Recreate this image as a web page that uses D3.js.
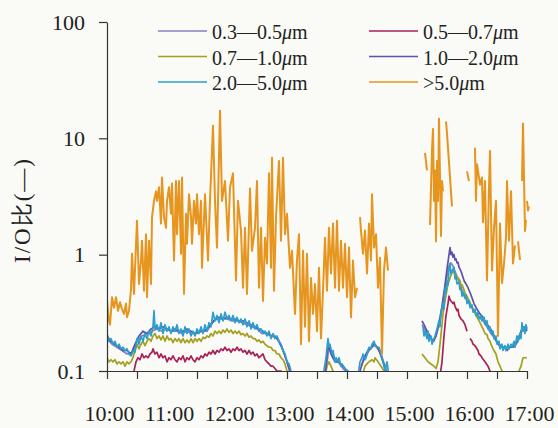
<!DOCTYPE html>
<html>
<head>
<meta charset="utf-8">
<script src="https://cdn.jsdelivr.net/npm/d3@7"></script>
<style>
  body { margin: 0; background: #fafaf6; }
  svg { display: block; font-family: "Liberation Serif", "Times New Roman", serif; }
</style>
</head>
<body>
<script>
const WIDTH = 558;
const HEIGHT = 428;

// minutes after 10:00, value (null = gap)
var s03_05 = [[0,0.19],[5,0.17],[10,0.16],[15,0.15],[20,0.14],[25,0.14],[30,0.18],[35,0.2],[40,0.21],[45,0.22],[50,0.23],[55,0.22],[60,0.23],[65,0.22],[70,0.22],[75,0.21],[80,0.22],[85,0.21],[90,0.21],[95,0.22],[100,0.22],[105,0.26],[110,0.28],[115,0.28],[120,0.28],[125,0.27],[130,0.27],[135,0.26],[140,0.25],[145,0.24],[150,0.23],[155,0.21],[160,0.21],[165,0.2],[170,0.19],[175,0.16],[180,0.12],[184,0.09],[185,null],
  [219,0.1],[222,0.16],[226,0.13],[231,0.12],[236,0.105],[241,0.095],[242,null],
  [254,0.11],[258,0.13],[262,0.15],[266,0.17],[270,0.16],[274,0.14],[278,0.11],[281,0.09],[282,null],
  [315,0.25],[319,0.22],[323,0.19],[327,0.18],[331,0.23],[334,0.3],[337,0.45],[340,0.65],[342,0.8],[344,0.85],[346,0.8],[348,0.72],[351,0.62],[354,0.52],[357,0.46],[360,0.41],[364,0.36],[368,0.32],[372,0.29],[376,0.27],[380,0.24],[384,0.21],[388,0.19],[392,0.17],[396,0.16],[400,0.16],[404,0.16],[408,0.17],[412,0.2],[416,0.24],[420,0.23]];

var s05_07 = [[25,0.09],[27,0.1],[29,0.12],[31,0.13],[33,0.125],[35,0.14],[37,0.13],[39,0.135],[41,0.13],[43,0.14],[45,0.145],[46,0.155],[48,0.14],[50,0.145],[52,0.13],[54,0.14],[56,0.13],[58,0.135],[60,0.12],[62,0.13],[64,0.125],[66,0.135],[68,0.125],[70,0.12],[72,0.13],[74,0.125],[76,0.135],[78,0.12],[80,0.13],[82,0.125],[84,0.135],[86,0.125],[88,0.12],[90,0.13],[92,0.125],[94,0.135],[96,0.13],[98,0.14],[100,0.135],[102,0.145],[104,0.14],[106,0.15],[108,0.14],[110,0.15],[112,0.145],[114,0.155],[116,0.15],[118,0.16],[120,0.15],[122,0.155],[124,0.145],[126,0.155],[128,0.15],[130,0.16],[132,0.15],[134,0.155],[136,0.145],[138,0.15],[140,0.14],[142,0.15],[144,0.14],[146,0.145],[148,0.135],[150,0.14],[152,0.13],[154,0.135],[156,0.14],[158,0.125],[160,0.12],[162,0.115],[164,0.11],[166,0.11],[168,0.105],[170,0.1],[172,0.1],[174,0.1],[176,0.095],[178,0.09],[179,null],
  [333,0.09],[335,0.12],[337,0.2],[339,0.3],[341,0.38],[342,0.44],[343,0.41],[344,0.4],[346,0.38],[347,0.39],[348,0.36],[350,0.33],[351,0.34],[352,0.3],[354,0.28],[356,0.27],[358,0.25],[360,0.22],[361,null],
  [363,0.19],[365,0.18],[366,0.17],[368,0.165],[369,0.16],[371,0.15],[372,0.14],[374,0.135],[375,0.13],[378,0.12],[381,0.11],[383,0.1],[385,0.09]];

var s07_10 = [[0,0.13],[2,0.12],[4,0.125],[6,0.12],[8,0.125],[10,0.115],[12,0.12],[14,0.115],[16,0.12],[18,0.11],[20,0.12],[22,0.115],[24,0.12],[26,0.13],[28,0.15],[30,0.17],[32,0.155],[34,0.17],[36,0.18],[38,0.165],[40,0.18],[42,0.19],[44,0.18],[46,0.2],[48,0.21],[50,0.19],[52,0.2],[54,0.185],[56,0.2],[58,0.18],[60,0.2],[62,0.185],[64,0.19],[66,0.175],[68,0.19],[70,0.18],[72,0.19],[74,0.175],[76,0.19],[78,0.175],[80,0.185],[82,0.175],[84,0.19],[86,0.175],[88,0.19],[90,0.18],[92,0.19],[94,0.18],[96,0.195],[98,0.19],[100,0.2],[102,0.195],[104,0.21],[106,0.2],[108,0.22],[110,0.21],[112,0.22],[114,0.21],[116,0.225],[118,0.215],[120,0.23],[122,0.215],[124,0.225],[126,0.21],[128,0.22],[130,0.21],[132,0.22],[134,0.205],[136,0.21],[138,0.2],[140,0.21],[142,0.195],[144,0.2],[146,0.19],[148,0.19],[150,0.18],[152,0.185],[154,0.175],[156,0.18],[158,0.17],[160,0.165],[162,0.16],[164,0.16],[166,0.15],[168,0.15],[170,0.14],[172,0.14],[174,0.13],[176,0.125],[178,0.115],[180,0.1],[182,0.09],[183,null],
  [218,0.09],[220,0.11],[222,0.12],[224,0.11],[226,0.1],[228,0.09],[229,null],
  [255,0.09],[258,0.11],[260,0.115],[262,0.12],[265,0.125],[267,0.12],[268,0.13],[271,0.12],[274,0.11],[277,0.1],[279,0.09],[280,null],
  [315,0.14],[318,0.13],[321,0.12],[324,0.115],[327,0.11],[329,0.105],[331,0.12],[333,0.17],[335,0.25],[336,0.31],[338,0.4],[340,0.5],[341,0.56],[343,0.63],[345,0.7],[347,0.72],[348,0.66],[349,0.68],[350,0.62],[351,0.63],[353,0.6],[354,0.54],[355,0.55],[357,0.5],[358,0.47],[360,0.44],[361,0.42],[363,0.39],[364,0.37],[366,0.34],[367,0.33],[369,0.3],[370,0.29],[372,0.27],[373,0.26],[375,0.24],[376,0.23],[378,0.21],[380,0.205],[381,0.19],[383,0.18],[384,0.17],[386,0.155],[387,0.15],[389,0.14],[391,0.12],[393,0.11],[395,0.1],[397,0.09],[398,null],
  [410,0.09],[412,0.1],[414,0.11],[416,0.13],[418,0.13],[420,0.13]];

var s10_20 = [[0,0.2],[4,0.18],[8,0.17],[12,0.16],[16,0.15],[20,0.15],[24,0.14],[28,0.17],[32,0.2],[36,0.22],[40,0.21],[44,0.23],[48,0.24],[52,0.23],[56,0.24],[60,0.23],[64,0.22],[68,0.23],[72,0.22],[76,0.22],[80,0.23],[84,0.22],[88,0.21],[92,0.22],[96,0.22],[100,0.23],[104,0.25],[108,0.28],[112,0.29],[116,0.28],[120,0.29],[124,0.28],[128,0.28],[132,0.27],[136,0.27],[140,0.26],[144,0.25],[148,0.24],[152,0.23],[156,0.22],[160,0.21],[164,0.2],[168,0.2],[172,0.18],[176,0.15],[180,0.12],[183,0.1],[185,0.09],[186,null],
  [218,0.09],[221,0.17],[224,0.14],[228,0.12],[232,0.12],[236,0.11],[240,0.1],[242,0.09],[243,null],
  [253,0.1],[257,0.13],[261,0.15],[265,0.16],[268,0.17],[272,0.15],[276,0.12],[279,0.1],[281,0.09],[282,null],
  [315,0.27],[317,0.25],[320,0.22],[323,0.2],[326,0.18],[329,0.2],[332,0.26],[335,0.36],[338,0.55],[340,0.75],[342,1.0],[343,1.15],[344,1.0],[345,1.05],[346,0.95],[347,1.0],[348,0.9],[349,0.92],[350,0.85],[351,0.86],[352,0.78],[353,0.75],[354,0.72],[355,0.68],[357,0.6],[359,0.56],[361,0.52],[364,0.45],[367,0.38],[370,0.34],[373,0.31],[376,0.29],[379,0.26],[382,0.24],[385,0.22],[388,0.19],[391,0.17],[394,0.16],[397,0.16],[400,0.15],[403,0.16],[406,0.16],[409,0.17],[412,0.19],[415,0.23],[418,0.24],[420,0.22]];

var s20_50 = [[0,0.21],[2,0.18],[4,0.19],[6,0.17],[8,0.18],[10,0.16],[12,0.17],[14,0.155],[16,0.16],[18,0.15],[20,0.155],[22,0.14],[24,0.135],[26,0.15],[28,0.145],[30,0.19],[32,0.17],[34,0.2],[36,0.18],[38,0.21],[40,0.19],[42,0.22],[44,0.2],[46,0.24],[47,0.33],[48,0.23],[50,0.25],[52,0.22],[54,0.26],[56,0.21],[58,0.25],[60,0.22],[62,0.24],[64,0.21],[66,0.24],[68,0.22],[70,0.25],[72,0.21],[74,0.23],[76,0.2],[78,0.24],[80,0.21],[82,0.23],[84,0.2],[86,0.22],[88,0.2],[90,0.23],[92,0.21],[94,0.24],[96,0.21],[98,0.25],[100,0.22],[102,0.26],[104,0.24],[106,0.32],[108,0.27],[110,0.3],[112,0.26],[114,0.31],[116,0.27],[118,0.32],[120,0.28],[122,0.3],[124,0.27],[126,0.3],[128,0.26],[130,0.29],[132,0.26],[134,0.28],[136,0.25],[138,0.28],[140,0.24],[142,0.27],[144,0.23],[146,0.26],[148,0.23],[150,0.25],[152,0.22],[154,0.23],[156,0.21],[158,0.22],[160,0.2],[162,0.22],[164,0.19],[166,0.21],[168,0.19],[170,0.2],[172,0.18],[174,0.17],[176,0.15],[178,0.14],[180,0.12],[182,0.115],[184,0.1],[186,0.09],[187,null],
  [216,0.09],[219,0.13],[221,0.19],[222,0.16],[223,0.17],[225,0.14],[226,0.15],[228,0.12],[229,0.13],[231,0.12],[232,0.13],[234,0.11],[235,0.115],[238,0.105],[241,0.1],[243,0.09],[244,null],
  [251,0.09],[253,0.12],[255,0.13],[256,0.14],[258,0.125],[259,0.13],[261,0.15],[262,0.16],[264,0.155],[265,0.17],[267,0.18],[268,0.165],[270,0.16],[272,0.16],[273,0.15],[275,0.13],[276,0.12],[278,0.1],[280,0.12],[282,0.09],[283,null],
  [316,0.24],[317,0.2],[318,0.22],[320,0.19],[321,0.22],[322,0.18],[324,0.2],[325,0.17],[326,0.18],[328,0.2],[330,0.23],[332,0.27],[333,0.24],[334,0.32],[336,0.38],[337,0.34],[338,0.52],[339,0.47],[340,0.6],[341,0.55],[342,0.75],[343,0.84],[344,0.68],[345,0.72],[347,0.78],[348,0.62],[349,0.65],[350,0.56],[352,0.58],[353,0.5],[354,0.52],[355,0.44],[356,0.47],[358,0.42],[359,0.45],[360,0.38],[362,0.4],[363,0.35],[365,0.37],[366,0.32],[368,0.34],[369,0.3],[371,0.32],[372,0.28],[374,0.3],[375,0.27],[377,0.29],[378,0.25],[380,0.27],[381,0.23],[383,0.24],[384,0.21],[386,0.22],[387,0.19],[389,0.2],[390,0.17],[392,0.18],[393,0.155],[395,0.17],[396,0.15],[398,0.165],[399,0.15],[401,0.17],[402,0.155],[404,0.17],[405,0.16],[407,0.18],[408,0.16],[410,0.2],[411,0.18],[413,0.21],[414,0.19],[415,0.26],[416,0.22],[417,0.24],[418,0.21],[419,0.25],[420,0.23]];

var s50 = [[0,0.40],[2,0.27],[3,0.25],[5,0.43],[7,0.35],[9,0.43],[11,0.33],[13,0.39],[15,0.34],[17,0.31],[19,0.38],[20,0.29],[22,0.33],[24,0.5],[25,1.02],[27,0.46],[30,1.96],[32,0.56],[34,0.89],[35,1.32],[37,0.49],[39,1.5],[40,0.43],[42,1.32],[44,0.56],[45,2.1],[47,2.9],[49,3.5],[50,2.9],[52,3.8],[54,1.85],[55,4.6],[57,2.1],[59,1.7],[60,2.9],[62,3.8],[64,2.25],[65,4.1],[67,0.89],[69,4.3],[70,1.5],[72,4.3],[74,1.02],[75,4.6],[77,0.46],[79,2.25],[80,1.24],[82,3.3],[84,2.1],[85,1.24],[87,2.9],[89,1.85],[90,3.3],[92,1.5],[94,2.9],[95,0.77],[98,3.3],[101,0.89],[103,2.9],[106,12.8],[108,2.9],[110,1.15],[113,17.3],[115,2.9],[118,4.3],[121,1.32],[123,3.8],[126,5.0],[129,0.6],[131,2.9],[134,1.61],[136,0.52],[138,1.7],[140,0.46],[143,3.7],[145,1.08],[148,1.7],[150,4.3],[152,0.52],[154,1.7],[156,0.4],[158,1.4],[160,0.84],[162,5.0],[164,0.77],[165,6.8],[167,0.49],[169,2.1],[172,6.4],[174,1.32],[176,6.8],[178,1.5],[180,2.25],[183,0.77],[185,1.08],[188,0.31],[190,0.9],[192,1.5],[194,0.17],[196,1.08],[198,0.24],[200,1.02],[202,0.18],[204,0.63],[206,0.31],[208,0.56],[210,0.22],[212,0.77],[214,0.19],[216,0.49],[218,1.4],[220,0.49],[222,1.7],[224,0.69],[226,1.85],[228,0.52],[230,1.96],[232,0.49],[234,1.32],[236,0.52],[238,1.24],[240,0.43],[242,1.15],[244,0.29],[246,0.89],[248,0.43],[250,0.52],[251,null],
  [253,2.1],[254,1.6],[256,1.02],[258,1.61],[260,0.69],[262,1.85],[264,0.89],[265,3.3],[267,1.15],[269,1.5],[271,0.52],[273,0.94],[275,0.14],[277,0.73],[279,1.15],[281,0.73],[282,null],
  [318,7.5],[320,5.3],[321,null],
  [323,1.8],[325,7.8],[326,12],[327,2.9],[328,5.3],[329,1.3],[330,6.4],[331,2.9],[332,14.7],[334,1.45],[335,4.3],[336,3.5],[337,null],
  [339,14],[340,11],[345,2.6],[346,null],
  [360,5.2],[362,4.3],[363,null],
  [368,8.3],[369,2.9],[370,6.0],[372,4.6],[373,4.0],[375,4.6],[376,1.9],[378,4.3],[380,0.6],[382,3.8],[383,7.8],[385,0.73],[387,1.7],[389,2.9],[391,0.2],[393,1.85],[395,0.57],[397,0.84],[399,1.4],[400,4.3],[402,1.32],[404,3.5],[406,0.84],[408,1.2],[409,null],
  [411,1.3],[413,0.9],[414,null],
  [415,4.3],[416,13.4],[418,1.6],[419,2.0],[419.5,null],
  [420,2.9],[421,2.4],[422,2.6]];

var seriesNames = ["0.3\u20140.5", "0.5\u20140.7", "0.7\u20141.0", "1.0\u20142.0", "2.0\u20145.0", ">5.0"];
var seriesData = [s03_05, s05_07, s07_10, s10_20, s20_50, s50];
var seriesColors = ["#8a7ec2", "#a82158", "#a3a020", "#5e52a8", "#2d9fcc", "#e6951f"];

var xTickValues = [0, 30, 60, 90, 120, 150, 180, 210, 240, 270, 300, 330, 360, 390, 420];
var xTickLabels = ["10:00", "11:00", "12:00", "13:00", "14:00", "15:00", "16:00", "17:00"];
var yTickValues = [0.1, 1, 10, 100];
var yTickLabels = ["0.1", "1", "10", "100"];

var svg = d3.select("body").append("svg")
    .attr("width", WIDTH)
    .attr("height", HEIGHT);

svg.append("rect")
    .attr("width", WIDTH)
    .attr("height", HEIGHT)
    .attr("fill", "#fafaf6");

var x = d3.scaleLinear().domain([0, 420]).range([107, 527]);
var y = d3.scaleLog().domain([0.1, 100]).range([371, 22]);

svg.append("clipPath").attr("id", "plot")
    .append("rect")
    .attr("x", 107).attr("y", 22)
    .attr("width", 440).attr("height", 349);

// data lines
var line = d3.line()
    .defined(d => d[1] != null)
    .x(d => x(d[0]))
    .y(d => y(d[1]));

var lines = svg.append("g").attr("clip-path", "url(#plot)");
seriesData.forEach(function (data, i) {
    lines.append("path")
        .datum(data)
        .attr("d", line)
        .attr("fill", "none")
        .attr("stroke", seriesColors[i])
        .attr("stroke-width", i == 5 ? 2 : 1.7)
        .attr("stroke-linejoin", "round");
});

// axes
var yAxis = svg.append("g")
    .attr("transform", "translate(107,0)")
    .call(d3.axisLeft(y)
        .tickValues(yTickValues)
        .tickFormat((d, i) => yTickLabels[i])
        .tickSize(8)
        .tickSizeOuter(0)
        .tickPadding(14));

var xAxis = svg.append("g")
    .attr("transform", "translate(0,371)")
    .call(d3.axisBottom(x)
        .tickValues(xTickValues)
        .tickFormat(d => d % 60 == 0 ? xTickLabels[d / 60] : "")
        .tickSize(8)
        .tickSizeOuter(0)
        .tickPadding(26));

svg.selectAll(".domain, .tick line").attr("stroke", "#333").attr("stroke-width", 1.2);
svg.selectAll(".tick text")
    .attr("fill", "#222")
    .attr("font-family", "Liberation Serif, serif")
    .attr("font-size", 22);
xAxis.selectAll(".tick text").attr("dx", 2);

// y title
svg.append("text")
    .attr("transform", "translate(30,210) rotate(-90)")
    .attr("text-anchor", "middle")
    .attr("font-size", 23)
    .attr("letter-spacing", 2)
    .attr("fill", "#222")
    .text("I/O比(\u2014)");

// legend
var legend = svg.append("g");
seriesNames.forEach(function (name, i) {
    var col = i % 2, row = Math.floor(i / 2);
    var lx = col == 0 ? 158 : 369;
    var ly = 31 + row * 25.5;
    legend.append("line")
        .attr("x1", lx).attr("x2", lx + 49)
        .attr("y1", ly).attr("y2", ly)
        .attr("stroke", seriesColors[i])
        .attr("stroke-width", 1.6);
    var t = legend.append("text")
        .attr("x", lx + 54)
        .attr("y", ly + 8)
        .attr("font-size", 20)
        .attr("fill", "#222");
    t.append("tspan").text(name);
    t.append("tspan").attr("font-style", "italic").text("\u03bc");
    t.append("tspan").text("m");
});
</script>
</body>
</html>
